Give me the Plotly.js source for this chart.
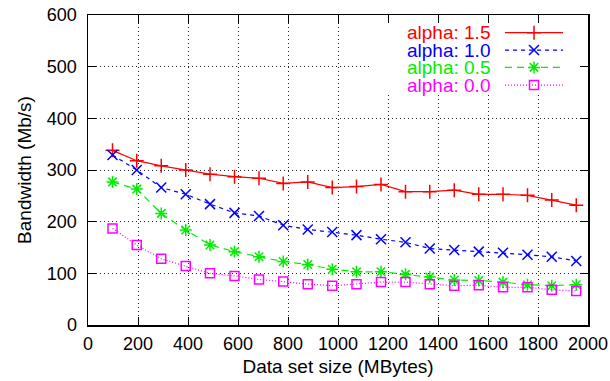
<!DOCTYPE html>
<html>
<head>
<meta charset="utf-8">
<script src="https://cdn.plot.ly/plotly-3.0.1.min.js"></script>
<style>
  html, body { margin: 0; padding: 0; background: #ffffff; }
  #chart { width: 610px; height: 381px; }
</style>
</head>
<body>
<div id="chart"></div>
<script>
// Data set sizes (MBytes) at which bandwidth was measured
var dataSize = [98, 195, 293, 391, 488, 586, 684, 781, 879, 977,
                1074, 1172, 1270, 1367, 1465, 1563, 1660, 1758, 1855, 1953];

// Measured bandwidth (Mb/s) for each alpha
var alpha15 = [338, 318, 308, 300, 292, 287, 284, 274, 277, 266,
               268, 272, 258, 258, 261, 253, 253, 251, 242, 232];
var alpha10 = [329, 300, 266, 253, 234, 217, 211, 193, 185, 180,
               174, 166, 160, 148, 145, 142, 140, 136, 132, 124];
var alpha05 = [277, 263, 216, 184, 155, 142, 132, 123, 117, 108,
               103, 103, 98, 93, 87, 86, 83, 78, 76, 78];
var alpha00 = [187, 155, 128, 114, 100, 95, 88, 84, 79, 76,
               79, 83, 83, 79, 76, 77, 73, 73, 68, 66];

var seriesNames = ['alpha: 1.5', 'alpha: 1.0', 'alpha: 0.5', 'alpha: 0.0'];
var seriesValues = [alpha15, alpha10, alpha05, alpha00];

var xTicks = [0, 200, 400, 600, 800, 1000, 1200, 1400, 1600, 1800, 2000];
var yTicks = [0, 100, 200, 300, 400, 500, 600];

// Per-series look: colour, line dash, marker symbol
var styles = [
  { color: '#ff0000', dash: 'solid', symbol: 'cross-thin-open', size: 10 },
  { color: '#0000ff', dash: '4px,4px', symbol: 'x-thin-open', size: 10 },
  { color: '#00ee00', dash: '7px,5px', symbol: 'asterisk-open', size: 10 },
  { color: '#ff00ff', dash: '1px,2px', symbol: 'square-open', size: 9 }
];

// Key layout (fractions of the plot area)
var keyRowY = [0.943, 0.887, 0.831, 0.774];
var keyLineX = [0.834, 0.95];
var keyMarkX = 0.892;
var keyTextX = 0.808;

var traces = [];
seriesValues.forEach(function (vals, i) {
  var s = styles[i];
  traces.push({
    type: 'scatter', mode: 'lines+markers',
    x: dataSize, y: vals, name: seriesNames[i],
    line: { color: s.color, width: 1.2, dash: s.dash },
    marker: { symbol: s.symbol, size: s.size, color: s.color,
              line: { color: s.color, width: 1.5 } },
    showlegend: false, hoverinfo: 'skip'
  });
});

// Key samples on an overlay axis with a 0..1 range
seriesValues.forEach(function (vals, i) {
  var s = styles[i];
  traces.push({
    type: 'scatter', mode: 'lines', xaxis: 'x2', yaxis: 'y2',
    x: keyLineX, y: [keyRowY[i], keyRowY[i]],
    line: { color: s.color, width: 1.2, dash: s.dash },
    showlegend: false, hoverinfo: 'skip'
  });
  traces.push({
    type: 'scatter', mode: 'markers', xaxis: 'x2', yaxis: 'y2',
    x: [keyMarkX], y: [keyRowY[i]],
    marker: { symbol: s.symbol, size: s.size, color: s.color,
              line: { color: s.color, width: 1.5 } },
    showlegend: false, hoverinfo: 'skip'
  });
});

var annotations = seriesNames.map(function (name, i) {
  return {
    xref: 'x2', yref: 'y2', x: keyTextX, y: keyRowY[i],
    xanchor: 'right', yanchor: 'middle', showarrow: false,
    text: name, font: { family: 'Liberation Sans, Arial, sans-serif', size: 19, color: styles[i].color }
  };
});

var axisCommon = {
  showline: true, linecolor: '#000000', linewidth: 1.5, mirror: 'allticks',
  ticks: 'inside', ticklen: 8, tickwidth: 1, tickcolor: '#000000',
  showgrid: true, gridcolor: '#222222', gridwidth: 1, griddash: '1px,3px',
  zeroline: false, fixedrange: true,
  tickfont: { family: 'Liberation Sans, Arial, sans-serif', size: 18, color: '#000000' }
};

var layout = {
  width: 610, height: 381,
  margin: { l: 88, r: 22, t: 15, b: 56 },
  paper_bgcolor: '#ffffff', plot_bgcolor: '#ffffff',
  showlegend: false,
  xaxis: Object.assign({}, axisCommon, {
    range: [0, 2000], tickmode: 'array', tickvals: xTicks,
    ticklabelstandoff: 2,
    title: { text: 'Data set size (MBytes)', standoff: 6,
             font: { family: 'Liberation Sans, Arial, sans-serif', size: 19, color: '#000000' } }
  }),
  yaxis: Object.assign({}, axisCommon, {
    range: [0, 600], tickmode: 'array', tickvals: yTicks,
    ticklabelstandoff: 6,
    title: { text: 'Bandwidth (Mb/s)', standoff: 10,
             font: { family: 'Liberation Sans, Arial, sans-serif', size: 19, color: '#000000' } }
  }),
  xaxis2: { overlaying: 'x', range: [0, 1], visible: false, fixedrange: true },
  yaxis2: { overlaying: 'y', range: [0, 1], visible: false, fixedrange: true },
  shapes: [{
    type: 'rect', layer: 'between', xref: 'x', yref: 'y',
    x0: 1136, x1: 2000, y0: 449, y1: 600,
    fillcolor: '#ffffff', line: { width: 0 }
  }],
  annotations: annotations
};

Plotly.newPlot('chart', traces, layout, { displayModeBar: false, staticPlot: true });
</script>
</body>
</html>
